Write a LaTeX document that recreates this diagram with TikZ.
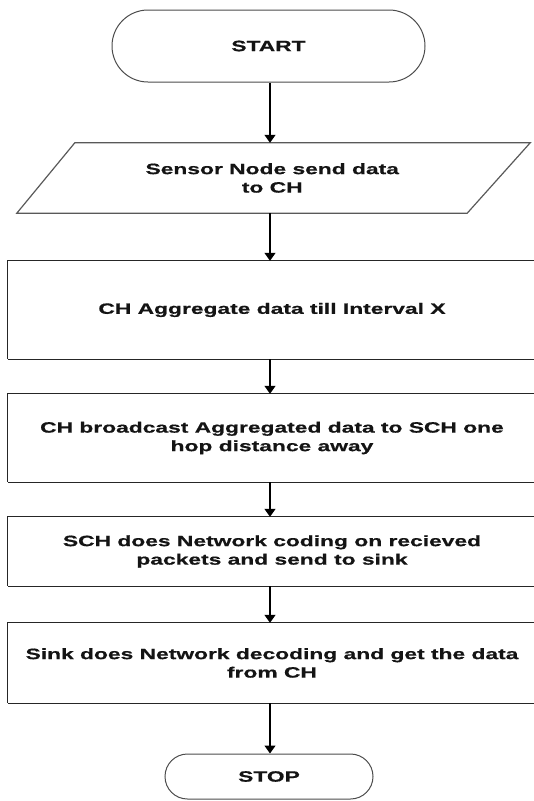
\documentclass[tikz,border=0pt]{standalone}
\usepackage{fontspec}
\newfontfamily\flowfont{Liberation Sans}[FakeStretch=1.52, BoldFeatures={FakeBold=0.6}]
\usetikzlibrary{arrows.meta,shapes.misc}

\tikzset{
  flowtext/.style={font=\flowfont\bfseries\fontsize{15}{18.5}\selectfont, align=center, text=black!92},
  terminal/.style={rounded rectangle, draw=black!70, line width=1pt, inner sep=0pt, flowtext},
  procbody/.style={rectangle, inner sep=0pt, minimum width=528pt, flowtext},
  procedge/.style={draw=black!85, line width=1.3pt},
  iobody/.style={rectangle, inner sep=0pt, minimum width=452.5pt, minimum height=70pt, flowtext},
  ioedge/.style={draw=black!65, line width=1.2pt},
  flow/.style={-{Triangle[width=11pt,length=8pt]}, line width=1.3pt, black}
}

\begin{document}
\begin{tikzpicture}[x=1pt,y=-1pt]
  \useasboundingbox (0,0) rectangle (534,801);
  \clip (0,0) rectangle (534,801);

  % vertical spine shared by all connectors
  \coordinate (ax) at (270,0);

  \node[terminal, minimum width=313pt, minimum height=72pt] (start) at (268.5,46) {START};

  % input/output step: invisible body plus slanted outline
  \node[iobody] (para) at (272.25,178) {Sensor Node send data\\to CH};
  \draw[ioedge] ([xshift=29pt]para.north west) -- ([xshift=31.5pt]para.north east)
    -- ([xshift=-31.5pt]para.south east) -- ([xshift=-29pt]para.south west) -- cycle;

  % process steps; their boxes run past the right margin
  \node[procbody, minimum height=98pt] (agg) at (272,310) {CH Aggregate data till Interval X};
  \node[procbody, minimum height=88pt] (bcast) at (272,438) {CH broadcast Aggregated data to SCH one\\hop distance away};
  \node[procbody, minimum height=69pt] (code) at (272,551.5) {SCH does Network coding on recieved\\packets and send to sink};
  \node[procbody, minimum height=80pt] (decode) at (272,663) {Sink does Network decoding and get the data\\from CH};
  \foreach \b in {agg,bcast,code,decode}
    \draw[procedge] (\b.south west) -- (\b.north west) -- ([xshift=20pt]\b.north east)
      ([xshift=20pt]\b.south east) -- (\b.south west);

  \node[terminal, minimum width=208pt, minimum height=45pt] (stop) at (269,776.5) {STOP};

  \draw[flow] (start.south -| ax) -- (para.north -| ax);
  \draw[flow] (para.south -| ax) -- (agg.north -| ax);
  \draw[flow] (agg.south -| ax) -- (bcast.north -| ax);
  \draw[flow] (bcast.south -| ax) -- (code.north -| ax);
  \draw[flow] (code.south -| ax) -- (decode.north -| ax);
  \draw[flow] (decode.south -| ax) -- (stop.north -| ax);
\end{tikzpicture}
\end{document}
